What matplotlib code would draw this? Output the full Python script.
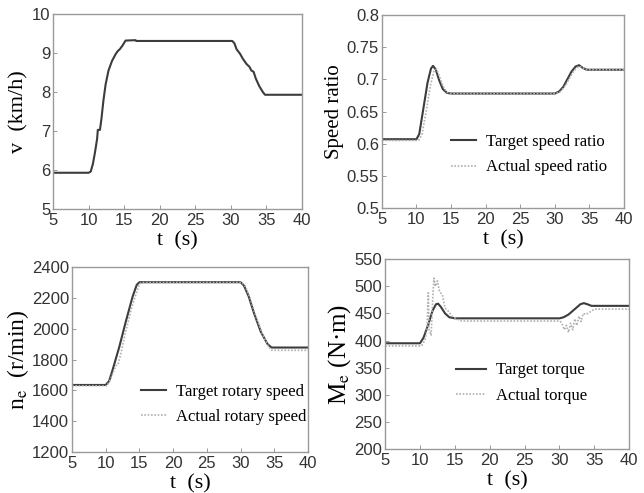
import matplotlib
matplotlib.use("Agg")
from matplotlib import pyplot as plt

plt.rcParams["font.family"] = "Liberation Serif"
plt.rcParams["mathtext.fontset"] = "stix"

# vehicle speed
v_t = [5, 10, 10.3, 10.6, 10.9, 11.2, 11.3, 11.6, 11.8, 12.1, 12.4, 12.8, 13.3, 13.8, 14.1,
       14.4, 14.8, 15.2, 16.6, 16.7, 30.2, 30.5, 30.8, 31.3, 31.7, 32.2, 32.6, 32.9, 33.2,
       33.5, 34.0, 34.5, 34.8, 40]
v_kmh = [5.93, 5.93, 5.96, 6.15, 6.45, 6.8, 7.03, 7.03, 7.3, 7.8, 8.2, 8.55, 8.8, 8.97, 9.05,
         9.1, 9.2, 9.32, 9.33, 9.31, 9.31, 9.25, 9.1, 8.98, 8.85, 8.72, 8.65, 8.55, 8.52,
         8.35, 8.15, 8.0, 7.93, 7.93]

# speed ratio
ratio_target_t = [5, 10, 10.4, 11.0, 11.6, 12.1, 12.4, 12.8, 13.3, 13.8, 14.4, 15, 30, 30.6,
                  31.2, 31.8, 32.4, 33.0, 33.5, 34.0, 34.6, 40]
ratio_target = [0.607, 0.607, 0.615, 0.655, 0.695, 0.717, 0.721, 0.715, 0.698, 0.685, 0.679,
                0.678, 0.678, 0.681, 0.688, 0.700, 0.712, 0.720, 0.722, 0.718, 0.715, 0.715]
ratio_actual_t = [5, 10.3, 10.8, 11.4, 12.0, 12.5, 12.9, 13.3, 13.8, 14.4, 15, 30.2, 30.8,
                  31.5, 32.2, 32.8, 33.4, 33.9, 34.5, 40]
ratio_actual = [0.605, 0.605, 0.615, 0.65, 0.69, 0.712, 0.716, 0.705, 0.69, 0.68, 0.678,
                0.678, 0.681, 0.69, 0.703, 0.714, 0.72, 0.719, 0.715, 0.715]

# engine rotary speed
n_target_t = [5, 10, 10.5, 11, 12, 13, 14, 14.6, 15, 30, 30.5, 31.2, 32, 33, 34, 34.6, 40]
n_target = [1635, 1635, 1660, 1730, 1880, 2050, 2210, 2285, 2302, 2302, 2280, 2210, 2100,
            1980, 1900, 1878, 1878]
n_actual_t = [5, 10.2, 10.8, 11.5, 11.8, 12.2, 13, 14, 15, 15.3, 30.2, 30.7, 31.4, 32.2,
              33.2, 34.1, 34.6, 40]
n_actual = [1630, 1630, 1680, 1760, 1765, 1830, 1990, 2160, 2290, 2300, 2300, 2275, 2200,
            2090, 1970, 1885, 1860, 1860]

# engine torque
m_target_t = [5, 10, 10.5, 11.2, 11.8, 12.3, 12.6, 13, 13.6, 14.2, 15, 30, 30.6, 31.3, 32.2,
              33, 33.5, 34, 34.6, 40]
m_target = [395, 395, 405, 430, 455, 467, 468, 462, 450, 443, 441, 441, 443, 448, 458, 467,
            469, 467, 464, 464]
m_actual_t = [5, 10.2, 10.7, 11.0, 11.2, 11.3, 11.6, 11.8, 12.0, 12.2, 12.5, 12.8, 13.2,
              13.6, 14, 14.6, 15.2, 16, 30.1, 30.4, 30.7, 31, 31.3, 31.6, 31.9, 32.2, 32.5,
              32.8, 33.1, 33.4, 33.8, 34.3, 35, 40]
m_actual = [390, 390, 400, 420, 488, 420, 410, 470, 515, 500, 510, 490, 485, 460, 455, 445,
            440, 436, 436, 430, 420, 428, 415, 432, 420, 440, 428, 445, 435, 450, 448, 452,
            458, 458]

t_ticks = [5, 10, 15, 20, 25, 30, 35, 40]
tgt = dict(color="#3c3c3c", lw=1.5)
act = dict(color="#b0b0b0", lw=1.2, dashes=(1, 1))
leg = dict(loc="upper left", frameon=False, fontsize=12, labelspacing=0.55,
           handletextpad=0.6)

fig = plt.figure(figsize=(6.44, 4.93), dpi=100)
ax1 = fig.add_axes([0.0823, 0.576, 0.3866, 0.3955])
ax2 = fig.add_axes([0.593, 0.578, 0.376, 0.3915])
ax3 = fig.add_axes([0.1118, 0.0832, 0.3665, 0.375])
ax4 = fig.add_axes([0.598, 0.0892, 0.379, 0.385])

ax1.plot(v_t, v_kmh, **tgt)
ax1.set_ylim(5, 10)
ax1.set_yticks([5, 6, 7, 8, 9, 10])
ax1.set_ylabel("v  (km/h)", fontsize=16, labelpad=2)

ax2.plot(ratio_target_t, ratio_target, label="Target speed ratio", **tgt)
ax2.plot(ratio_actual_t, ratio_actual, label="Actual speed ratio", **act)
ax2.set_ylim(0.5, 0.8)
ax2.set_yticks([0.5, 0.55, 0.6, 0.65, 0.7, 0.75, 0.8])
ax2.set_yticklabels(["0.5", "0.55", "0.6", "0.65", "0.7", "0.75", "0.8"])
ax2.set_ylabel("Speed ratio", fontsize=15, labelpad=2)
ax2.legend(bbox_to_anchor=(0.225, 0.46), handlelength=1.5, **leg)

ax3.plot(n_target_t, n_target, label="Target rotary speed", **tgt)
ax3.plot(n_actual_t, n_actual, label="Actual rotary speed", **act)
ax3.set_ylim(1200, 2400)
ax3.set_yticks([1200, 1400, 1600, 1800, 2000, 2200, 2400])
ax3.set_ylabel(r"n$_\mathrm{e}$  (r/min)", fontsize=17, labelpad=1)
ax3.legend(bbox_to_anchor=(0.23, 0.45), handlelength=1.5, **leg)

ax4.plot(m_target_t, m_target, label="Target torque", **tgt)
ax4.plot(m_actual_t, m_actual, label="Actual torque", **act)
ax4.set_ylim(200, 550)
ax4.set_yticks([200, 250, 300, 350, 400, 450, 500, 550])
ax4.set_ylabel(r"M$_\mathrm{e}$ (N·m)", fontsize=18, labelpad=1)
ax4.legend(bbox_to_anchor=(0.23, 0.535), handlelength=1.8, **leg)

for ax in (ax1, ax2, ax3, ax4):
    ax.set_xlim(5, 40)
    ax.set_xticks(t_ticks)
    ax.set_xlabel("t  (s)", fontsize=16, labelpad=2)
    ax.tick_params(direction="in", length=3, width=0.6, color="#888888",
                   labelsize=12, labelcolor="#333333")
    ax.tick_params(axis="x", pad=3)
    ax.tick_params(axis="y", pad=2)
    for lbl in ax.get_xticklabels() + ax.get_yticklabels():
        lbl.set_fontfamily("Liberation Sans")
    for sp in ax.spines.values():
        sp.set_color("#999999")
        sp.set_linewidth(1.0)

fig.savefig("out.png", dpi=100)
